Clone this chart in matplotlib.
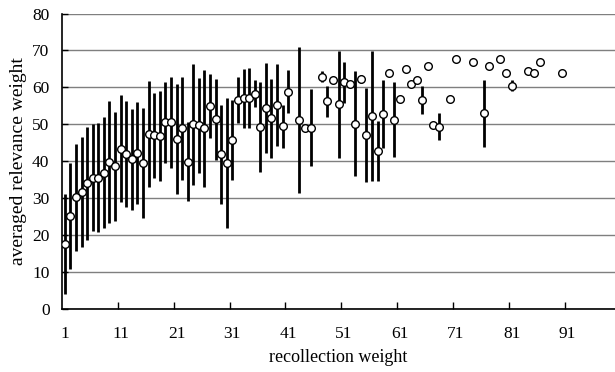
import matplotlib
matplotlib.use("Agg")
import matplotlib.pyplot as plt
from matplotlib.ticker import FixedLocator, NullFormatter

plt.rcParams['font.family'] = ['Liberation Serif', 'DejaVu Serif']

recollection = [1, 2, 3, 4, 5, 6, 7, 8, 9, 10,
                11, 12, 13, 14, 15, 16, 17, 18, 19, 20,
                21, 22, 23, 24, 25, 26, 27, 28, 29, 30,
                31, 32, 33, 34, 35, 36, 37, 38, 39, 40,
                41, 43, 44, 45, 47, 48, 49, 50,
                51, 52, 53, 54, 55, 56, 57, 58, 59, 60,
                61, 62, 63, 64, 65, 66, 67, 68, 70,
                71, 74, 76, 77, 79, 80,
                81, 84, 85, 86, 90]
relevance = [17.5, 25.2, 30.2, 31.7, 34.0, 35.6, 35.6, 36.9, 39.8, 38.6,
             43.4, 41.9, 40.5, 42.2, 39.6, 47.3, 47.1, 46.8, 50.5, 50.6,
             46.1, 48.9, 39.9, 50.0, 49.7, 48.9, 54.9, 51.4, 41.9, 39.6,
             45.8, 56.6, 57.0, 57.2, 58.3, 49.3, 54.3, 51.6, 55.2, 49.5,
             58.8, 51.2, 48.9, 49.1, 62.9, 56.3, 61.9, 55.4,
             61.4, 61.0, 50.2, 62.3, 47.1, 52.3, 42.8, 52.9, 64.0, 51.3,
             56.9, 64.9, 61.0, 61.9, 56.6, 65.9, 49.9, 49.4, 56.9,
             67.8, 66.8, 53.0, 65.9, 67.8, 64.0,
             60.4, 64.4, 64.0, 66.8, 64.0]
error = [13.5, 14.3, 14.5, 14.9, 15.2, 14.4, 14.7, 15.1, 16.6, 14.7,
         14.5, 14.3, 13.7, 13.8, 14.9, 14.4, 11.5, 12.1, 10.9, 12.3,
         14.9, 13.9, 10.6, 16.3, 12.8, 15.9, 8.6, 11.0, 13.4, 17.6,
         10.8, 6.2, 7.9, 8.1, 3.7, 12.1, 12.2, 10.7, 11.2, 5.8,
         5.8, 19.7, 0.0, 10.5, 1.4, 4.2, 0.0, 14.4,
         5.6, 0.0, 14.1, 1.0, 12.7, 17.6, 8.2, 9.2, 0.0, 10.1,
         0.0, 0.0, 0.0, 0.0, 3.9, 0.0, 0.0, 3.6, 0.0,
         0.0, 0.0, 9.1, 0.9, 0.0, 1.0,
         1.5, 0.0, 0.0, 0.0, 0.0]

x_labels = ['1', '11', '21', '31', '41', '51', '61', '71', '81', '91']
y_ticks = [0, 10, 20, 30, 40, 50, 60, 70, 80]

fig = plt.figure(figsize=(6.15, 3.72), dpi=100)
ax = fig.add_axes([62/615, 1 - 309/372, 1 - 62/615, (309 - 13.5)/372])

ax.errorbar(recollection, relevance, yerr=error, fmt='o', color='black',
            ecolor='black', elinewidth=2.0, capsize=0,
            markerfacecolor='white', markeredgecolor='black',
            markeredgewidth=1.0, markersize=5.5, zorder=3)

ax.set_xlim(0.5, 99.5)
ax.set_ylim(0, 80)
ax.set_yticks(y_ticks)
ax.yaxis.grid(True, color='#7f7f7f', linewidth=1.0)
ax.set_axisbelow(True)
ax.tick_params(axis='y', direction='in', length=4, width=1, labelsize=12.5, pad=9)

major_pos = [10.5 + 10 * i for i in range(9)]
ax.xaxis.set_major_locator(FixedLocator(major_pos))
ax.xaxis.set_major_formatter(NullFormatter())
label_pos = [int(s) for s in x_labels]
ax.xaxis.set_minor_locator(FixedLocator(label_pos))
ax.set_xticklabels(x_labels, minor=True)
ax.tick_params(axis='x', which='major', direction='in', length=5, width=1)
ax.tick_params(axis='x', which='minor', length=0, labelsize=12.5, pad=12)

for s in ['top', 'right']:
    ax.spines[s].set_visible(False)
ax.spines['left'].set_linewidth(1.2)
ax.spines['bottom'].set_linewidth(1.2)

ax.set_xlabel('recollection weight', fontsize=13, labelpad=5)
ax.set_ylabel('averaged relevance weight', fontsize=14, labelpad=4)

fig.savefig('out.png', dpi=100)
